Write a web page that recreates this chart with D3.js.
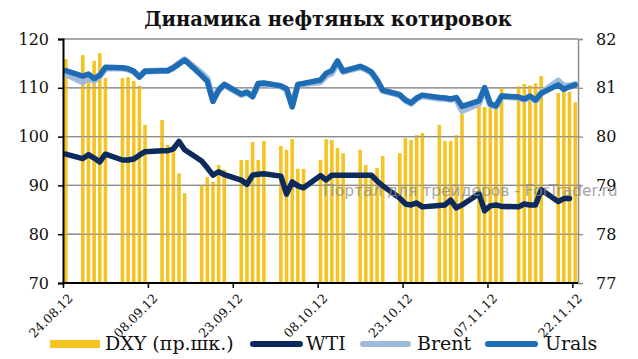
<!DOCTYPE html>
<html><head><meta charset="utf-8">
<script src="https://cdn.jsdelivr.net/npm/d3@7"></script>
<style>
html,body{margin:0;padding:0;background:#fff;}
svg{display:block;}
</style></head>
<body>
<svg id="chart" width="638" height="359"></svg>
<script>
// ---- DATA ----
const title = "Динамика нефтяных котировок";
const dates = ["24.08.12","27.08.12","28.08.12","29.08.12","30.08.12","31.08.12",
"03.09.12","04.09.12","05.09.12","06.09.12","07.09.12",
"10.09.12","11.09.12","12.09.12","13.09.12","14.09.12",
"17.09.12","18.09.12","19.09.12","20.09.12","21.09.12",
"24.09.12","25.09.12","26.09.12","27.09.12","28.09.12",
"01.10.12","02.10.12","03.10.12","04.10.12","05.10.12",
"08.10.12","09.10.12","10.10.12","11.10.12","12.10.12",
"15.10.12","16.10.12","17.10.12","18.10.12","19.10.12",
"22.10.12","23.10.12","24.10.12","25.10.12","26.10.12",
"29.10.12","30.10.12","31.10.12","01.11.12","02.11.12",
"05.11.12","06.11.12","07.11.12","08.11.12","09.11.12",
"12.11.12","13.11.12","14.11.12","15.11.12","16.11.12",
"19.11.12","20.11.12","21.11.12","22.11.12"];
const dxy = [81.59,81.67,81.32,81.55,81.71,81.20,
81.20,81.22,81.14,81.04,80.24,
80.34,79.83,79.77,79.25,78.84,
79.01,79.17,79.07,79.42,79.32,
79.52,79.52,79.89,79.52,79.91,
79.81,79.73,79.95,79.34,79.34,
79.52,79.95,79.93,79.77,79.66,
79.73,79.42,79.25,79.36,79.60,
79.66,79.97,79.93,80.03,80.07,
80.24,79.91,79.91,80.03,80.46,
80.63,80.61,80.59,80.71,81.00,
81.03,81.08,81.05,81.09,81.24,
80.89,80.95,80.92,80.70];
const wti = [96.4,95.5,96.3,95.6,94.8,96.4,
95.2,95.2,95.4,96.2,96.9,
97.1,97.1,97.5,99.0,97.3,
95.0,93.6,92.1,92.8,92.2,
91.1,90.2,92.1,92.3,92.4,
91.9,88.2,90.7,89.9,89.5,
92.0,91.1,92.1,92.1,92.1,
92.1,92.1,92.1,90.9,89.9,
87.4,86.2,86.0,86.4,85.6,
85.9,86.0,87.0,85.4,86.0,
88.3,84.8,85.8,86.0,85.7,
85.6,86.2,86.0,86.0,89.1,
86.7,87.3,87.3,null];
const brent = [112.8,111.2,112.0,111.5,112.4,114.0,
114.0,113.8,113.3,112.3,113.4,
113.5,113.5,114.1,115.0,115.8,
113.0,111.8,107.5,109.6,110.6,
108.6,109.0,108.3,110.8,110.8,
110.3,109.7,106.4,110.6,110.8,
111.2,112.5,113.0,115.3,113.3,
114.2,113.8,113.1,111.5,109.4,
108.5,107.4,106.8,107.8,108.3,
107.8,107.8,107.6,107.8,105.3,
106.8,110.0,106.5,106.2,108.2,
108.0,107.6,108.1,107.4,108.9,
111.4,110.4,110.4,110.7];
const urals = [113.5,112.4,112.8,111.9,112.6,114.2,
114.1,113.9,113.4,112.2,113.4,
113.5,113.5,114.1,114.9,115.7,
112.5,111.3,107.2,109.5,110.7,
108.7,109.1,108.2,110.9,111.0,
110.4,109.8,106.1,110.7,110.9,
111.6,113.0,113.5,115.5,113.4,
114.4,113.9,113.2,111.6,109.5,
108.6,107.5,106.9,107.9,108.5,
108.0,107.9,107.7,108.0,106.2,
107.3,110.0,106.7,106.3,108.3,
108.1,107.7,108.3,107.5,108.9,
110.6,109.7,110.2,110.6];
const xTickLabels = ["24.08.12","08.09.12","23.09.12","08.10.12","23.10.12","07.11.12","22.11.12"];
const leftTicks = [70,80,90,100,110,120];
const rightTicks = [77,78,79,80,81,82];
const legendLabels = ["DXY (пр.шк.)","WTI","Brent","Urals"];
const watermark = "Портал для трейдеров - ForTrader.ru";

// ---- STYLE ----
const C = {bar:"#F5C423", wti:"#0C2A5C", brent:"#9FBADD", urals:"#1D6CB4", grid:"#8C8C8C"};
const serif = "'DejaVu Serif', serif";

const svg = d3.select("#chart");
const parse = d3.utcParse("%d.%m.%y");
const M = {l:63, r:578, t:39, b:283};

const x = d3.scaleUtc()
  .domain([parse("24.08.12"), d3.utcDay.offset(parse("22.11.12"),1)])
  .range([M.l, M.r]);
const yL = d3.scaleLinear().domain([70,120]).range([M.b, M.t]);
const yR = d3.scaleLinear().domain([77,82]).range([M.b, M.t]);
const xc = s => x(d3.utcHour.offset(parse(s),12));

// gridlines
svg.append("g").selectAll("line").data(leftTicks.slice(1)).join("line")
  .attr("x1",M.l).attr("x2",M.r).attr("y1",d=>yL(d)).attr("y2",d=>yL(d))
  .attr("stroke",C.grid).attr("stroke-width",1.3);

// bars
const bw = 3.6;
svg.append("g").selectAll("rect").data(dates).join("rect")
  .attr("x",(d)=>xc(d)-bw/2).attr("width",bw)
  .attr("y",(d,i)=>yR(dxy[i])).attr("height",(d,i)=>M.b-yR(dxy[i]))
  .attr("fill",C.bar);

// gridlines over bars (thin)
svg.append("g").selectAll("line").data(leftTicks.slice(1,5)).join("line")
  .attr("x1",M.l).attr("x2",M.r).attr("y1",d=>yL(d)).attr("y2",d=>yL(d))
  .attr("stroke",C.grid).attr("stroke-width",1.1).attr("opacity",0.75);

// lines
function drawLine(vals,color,w){
  const line = d3.line().defined(d=>d[1]!=null).x(d=>xc(d[0])).y(d=>yL(d[1]));
  svg.append("path").datum(dates.map((d,i)=>[d,vals[i]]))
    .attr("d",line).attr("fill","none").attr("stroke",color)
    .attr("stroke-width",w).attr("stroke-linejoin","round").attr("stroke-linecap","round");
}
drawLine(brent,C.brent,6.5);
drawLine(urals,C.urals,5.5);
drawLine(wti,C.wti,5.5);

// left axis
const gL = svg.append("g").attr("transform",`translate(${M.l},0)`)
  .call(d3.axisLeft(yL).tickValues(leftTicks).tickSize(5).tickPadding(9));
gL.select(".domain").attr("stroke","#000").attr("stroke-width",2);
gL.selectAll(".tick line").attr("stroke","#000").attr("stroke-width",1.5);
gL.selectAll("text").attr("font-family",serif).attr("font-size",16).attr("fill","#111");

// right axis
const gR = svg.append("g").attr("transform",`translate(${M.r},0)`)
  .call(d3.axisRight(yR).tickValues(rightTicks).tickFormat(d3.format("d")).tickSize(5).tickPadding(13));
gR.select(".domain").attr("stroke",C.grid).attr("stroke-width",1.5);
gR.selectAll(".tick line").attr("stroke",C.grid).attr("stroke-width",1.3);
gR.selectAll("text").attr("font-family",serif).attr("font-size",16).attr("fill","#111");

// bottom axis
const gB = svg.append("g").attr("transform",`translate(0,${M.b})`)
  .call(d3.axisBottom(x).tickValues(xTickLabels.map(parse)).tickSize(5).tickFormat(d3.utcFormat("%d.%m.%y")));
gB.select(".domain").attr("stroke","#000").attr("stroke-width",2).attr("d",`M${M.l},0H${M.r}`);
gB.selectAll(".tick line").attr("stroke","#000").attr("stroke-width",1.5);
gB.selectAll("text").attr("font-family",serif).attr("font-size",12.5).attr("fill","#111")
  .attr("text-anchor","end").attr("dy","0.35em")
  .attr("transform","translate(7,13) rotate(-45)").attr("y",0).attr("x",0);

// title
svg.append("text").attr("x",328).attr("y",26).attr("text-anchor","middle")
  .attr("font-family",serif).attr("font-weight","bold").attr("font-size",19.5)
  .attr("fill","#111").text(title);

// watermark
svg.append("text").attr("x",323).attr("y",196)
  .attr("font-family","'DejaVu Sans', sans-serif").attr("font-size",15.5)
  .attr("fill","#8a8a8a").attr("opacity",0.75).text(watermark);

// legend
const lg = svg.append("g").attr("font-family",serif).attr("font-size",19).attr("fill","#111");
const ly = 344;
lg.append("rect").attr("x",50).attr("y",ly-4).attr("width",50).attr("height",8).attr("fill",C.bar);
lg.append("text").attr("x",105).attr("y",ly+6).text(legendLabels[0]);
const sw = [[250,303,C.wti,306],[360,411,C.brent,417],[485,538,C.urals,545]];
sw.forEach((s,i)=>{
  lg.append("line").attr("x1",s[0]+3).attr("x2",s[1]-3).attr("y1",ly).attr("y2",ly)
    .attr("stroke",s[2]).attr("stroke-width",6).attr("stroke-linecap","round");
  lg.append("text").attr("x",s[3]).attr("y",ly+6).text(legendLabels[i+1]);
});
</script>
</body></html>
